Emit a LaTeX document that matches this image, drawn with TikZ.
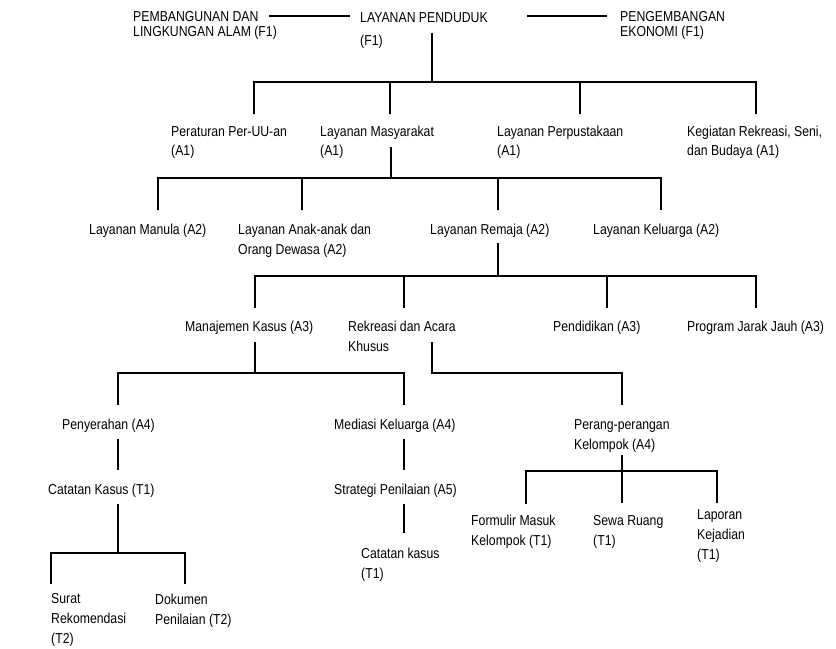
\documentclass[tikz,border=0pt]{standalone}
\usepackage{fontspec}
\newfontfamily\chartfont[FakeStretch=0.85]{Liberation Sans}
\usepackage{tikz}

\tikzset{
  lbl/.style={font=\chartfont\fontsize{12.3}{17}\selectfont, align=left, anchor=base west, inner sep=0pt},
  toplbl/.style={lbl, font=\chartfont\fontsize{12.3}{13.6}\selectfont},
  link/.style={line width=2pt, line join=miter},
  thinlink/.style={line width=1.1pt}
}

\begin{document}
\begin{tikzpicture}[x=0.03cm, y=-0.03cm]
    \useasboundingbox (0,0) rectangle (836,649);
    % function level (nodes sit on the baseline of their last line)
    \node[toplbl] (pembangunan) at (133,37) {PEMBANGUNAN DAN\\LINGKUNGAN ALAM (F1)};
    \node[toplbl] (penduduk) at (360,46) {LAYANAN PENDUDUK\\[6.5pt](F1)};
    \node[toplbl] (pengembangan) at (620,37) {PENGEMBANGAN\\EKONOMI (F1)};
    % activity level 1
    \node[lbl] (peraturan) at (171,156) {Peraturan Per-UU-an\\(A1)};
    \node[lbl] (masyarakat) at (320,156) {Layanan Masyarakat\\(A1)};
    \node[lbl] (perpustakaan) at (497,156) {Layanan Perpustakaan\\(A1)};
    \node[lbl] (kegiatan) at (687,156) {Kegiatan Rekreasi, Seni,\\dan Budaya (A1)};
    % activity level 2
    \node[lbl] (manula) at (89,234) {Layanan Manula (A2)};
    \node[lbl] (anak) at (238,254) {Layanan Anak-anak dan\\Orang Dewasa (A2)};
    \node[lbl] (remaja) at (430,234) {Layanan Remaja (A2)};
    \node[lbl] (keluarga) at (593,234) {Layanan Keluarga (A2)};
    % activity level 3
    \node[lbl] (manajemen) at (185,331) {Manajemen Kasus (A3)};
    \node[lbl] (rekreasi) at (348,351) {Rekreasi dan Acara\\Khusus};
    \node[lbl] (pendidikan) at (553,331) {Pendidikan (A3)};
    \node[lbl] (jarak) at (687,331) {Program Jarak Jauh (A3)};
    % activity level 4 and 5
    \node[lbl] (penyerahan) at (62,429) {Penyerahan (A4)};
    \node[lbl] (mediasi) at (334,429) {Mediasi Keluarga (A4)};
    \node[lbl] (perang) at (574,449) {Perang-perangan\\Kelompok (A4)};
    \node[lbl] (strategi) at (334,494) {Strategi Penilaian (A5)};
    % transactions
    \node[lbl] (catatan) at (48,494) {Catatan Kasus (T1)};
    \node[lbl] (kasus) at (361,578) {Catatan kasus\\(T1)};
    \node[lbl] (formulir) at (471,545) {Formulir Masuk\\Kelompok (T1)};
    \node[lbl] (sewa) at (593,545) {Sewa Ruang\\(T1)};
    \node[lbl] (laporan) at (697,559) {Laporan\\Kejadian\\(T1)};
    \node[lbl] (surat) at (51,643) {Surat\\Rekomendasi\\(T2)};
    \node[lbl] (dokumen) at (155,624) {Dokumen\\Penilaian (T2)};

    % where the lines leave a parent and meet a child
    \coordinate (pembangunan-e) at (269,16);
    \coordinate (penduduk-w) at (350,16);
    \coordinate (penduduk-e) at (527,16);
    \coordinate (pengembangan-w) at (607,16);
    \foreach \n/\x/\y in {penduduk/432/33, masyarakat/391/147, remaja/498/243,
        manajemen/255/342, rekreasi/432/342, penyerahan/118/439, catatan/118/504,
        mediasi/404/439, strategi/404/504, perang/622/455}
      \coordinate (\n-out) at (\x,\y);
    \foreach \n/\x/\y in {peraturan/254/114, masyarakat/390/114, perpustakaan/580/114,
        kegiatan/756/114, manula/158/210, anak/302/210, remaja/498/210, keluarga/661/210,
        manajemen/255/308, rekreasi/404/308, pendidikan/607/308, jarak/756/308,
        penyerahan/118/405, mediasi/404/405, perang/622/405, catatan/118/470,
        strategi/404/470, kasus/404/533, surat/51/584, dokumen/185/584,
        formulir/526/504, sewa/622/503, laporan/717/503}
      \coordinate (\n-in) at (\x,\y);
    \foreach \n/\y in {penduduk/82, masyarakat/178, remaja/276, manajemen/373,
        rekreasi/373, catatan/553, perang/471}
      \coordinate (\n-bar) at (0,\y);

    % side links of the top level
    \draw[thinlink] (pembangunan-e) -- (penduduk-w);
    \draw[link] (penduduk-e) -- (pengembangan-w);
    % tree links
    \foreach \p/\c in {penduduk/peraturan, penduduk/masyarakat, penduduk/perpustakaan,
        penduduk/kegiatan, masyarakat/manula, masyarakat/anak, masyarakat/remaja,
        masyarakat/keluarga, remaja/manajemen, remaja/rekreasi, remaja/pendidikan,
        remaja/jarak, manajemen/penyerahan, manajemen/mediasi, rekreasi/perang,
        catatan/surat, catatan/dokumen, perang/formulir, perang/sewa, perang/laporan}
      \draw[link] (\p-out) -- (\p-out |- \p-bar) -| (\c-in);
    \draw[link] (penyerahan-out) -- (catatan-in);
    \draw[link] (mediasi-out) -- (strategi-in);
    \draw[link] (strategi-out) -- (kasus-in);
\end{tikzpicture}
\end{document}
